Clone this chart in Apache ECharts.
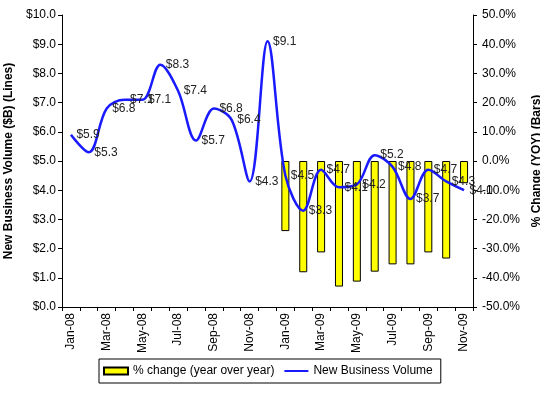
<!DOCTYPE html>
<html>
<head>
<meta charset="utf-8">
<script src="https://cdn.jsdelivr.net/npm/echarts@6/dist/echarts.min.js"></script>
<style>
html,body{margin:0;padding:0;background:#fff;}
#chart{width:540px;height:395px;}
</style>
</head>
<body>
<div id="chart"></div>
<script>
const categories = ['Jan-08','Feb-08','Mar-08','Apr-08','May-08','Jun-08','Jul-08','Aug-08','Sep-08','Oct-08','Nov-08','Dec-08',
  'Jan-09','Feb-09','Mar-09','Apr-09','May-09','Jun-09','Jul-09','Aug-09','Sep-09','Oct-09','Nov-09'];
const volume = [5.9,5.3,6.8,7.1,7.1,8.3,7.4,5.7,6.8,6.4,4.3,9.1,4.5,3.3,4.7,4.1,4.2,5.2,4.8,3.7,4.7,4.3,4.0];
const pctChange = [null,null,null,null,null,null,null,null,null,null,null,null,
  -24.0,-38.1,-31.3,-43.0,-41.3,-37.9,-35.4,-35.4,-31.3,-33.4,-7.6];
const leftTicks = {min:0, max:10, interval:1};
const rightTicks = {min:-50, max:50, interval:10};

const FONT = 'Liberation Sans, Arial, sans-serif';
const chart = echarts.init(document.getElementById('chart'), null, {renderer:'canvas'});
chart.setOption({
  animation:false,
  textStyle:{fontFamily:FONT},
  grid:{left:62, right:67, top:15, bottom:88, containLabel:false, outerBoundsMode:'none'},
  legend:{
    left:99, top:359,
    padding:[6,8,6,4],
    borderColor:'#000', borderWidth:1, borderRadius:0,
    itemWidth:24, itemHeight:7, itemGap:10,
    textStyle:{fontFamily:FONT, fontSize:12, color:'#000'},
    data:[
      {name:'% change (year over year)', icon:'rect'},
      {name:'New Business Volume', icon:'path://M0,0 L24,0 L24,2 L0,2 Z', itemStyle:{color:'#1a1aff'}}
    ]
  },
  xAxis:{
    type:'category', data:categories, boundaryGap:true,
    axisLine:{lineStyle:{color:'#000', width:1}},
    axisTick:{show:true, interval:0, length:4, lineStyle:{color:'#000'}},
    axisLabel:{interval:1, rotate:90, color:'#000', fontSize:12, fontFamily:FONT, margin:6}
  },
  yAxis:[
    {
      type:'value', min:leftTicks.min, max:leftTicks.max, interval:leftTicks.interval,
      name:'New Business Volume ($B) (Lines)', nameLocation:'middle', nameRotate:90, nameGap:41,
      nameTextStyle:{fontWeight:'bold', fontSize:12, color:'#000', fontFamily:FONT},
      axisLine:{show:true, lineStyle:{color:'#000'}},
      axisTick:{show:true, length:4, lineStyle:{color:'#000'}},
      splitLine:{show:false},
      axisLabel:{color:'#000', fontSize:12, fontFamily:FONT, margin:6, formatter:v=>'$'+v.toFixed(1)}
    },
    {
      type:'value', min:rightTicks.min, max:rightTicks.max, interval:rightTicks.interval,
      name:'% Change (YOY) (Bars)', nameLocation:'middle', nameRotate:90, nameGap:52,
      nameTextStyle:{fontWeight:'bold', fontSize:12, color:'#000', fontFamily:FONT},
      axisLine:{show:true, lineStyle:{color:'#000'}},
      axisTick:{show:true, length:4, lineStyle:{color:'#000'}},
      splitLine:{show:false},
      axisLabel:{color:'#000', fontSize:12, fontFamily:FONT, margin:9, formatter:v=>v.toFixed(1)+'%'}
    }
  ],
  series:[
    {
      name:'% change (year over year)', type:'bar', yAxisIndex:1, data:pctChange,
      barWidth:8,
      itemStyle:{color:'#ffff00', borderColor:'#000', borderWidth:1}
    },
    {
      name:'New Business Volume', type:'line', yAxisIndex:0, data:volume,
      smooth:0.35, symbol:'circle', symbolSize:1,
      itemStyle:{color:'rgba(0,0,0,0)'},
      lineStyle:{color:'#1a1aff', width:2.5},
      label:{show:true, position:'right', distance:5, color:'#222', fontSize:12, fontFamily:FONT,
        formatter:p=>'$'+p.value.toFixed(1)},
      z:3
    }
  ]
});
</script>
</body>
</html>
